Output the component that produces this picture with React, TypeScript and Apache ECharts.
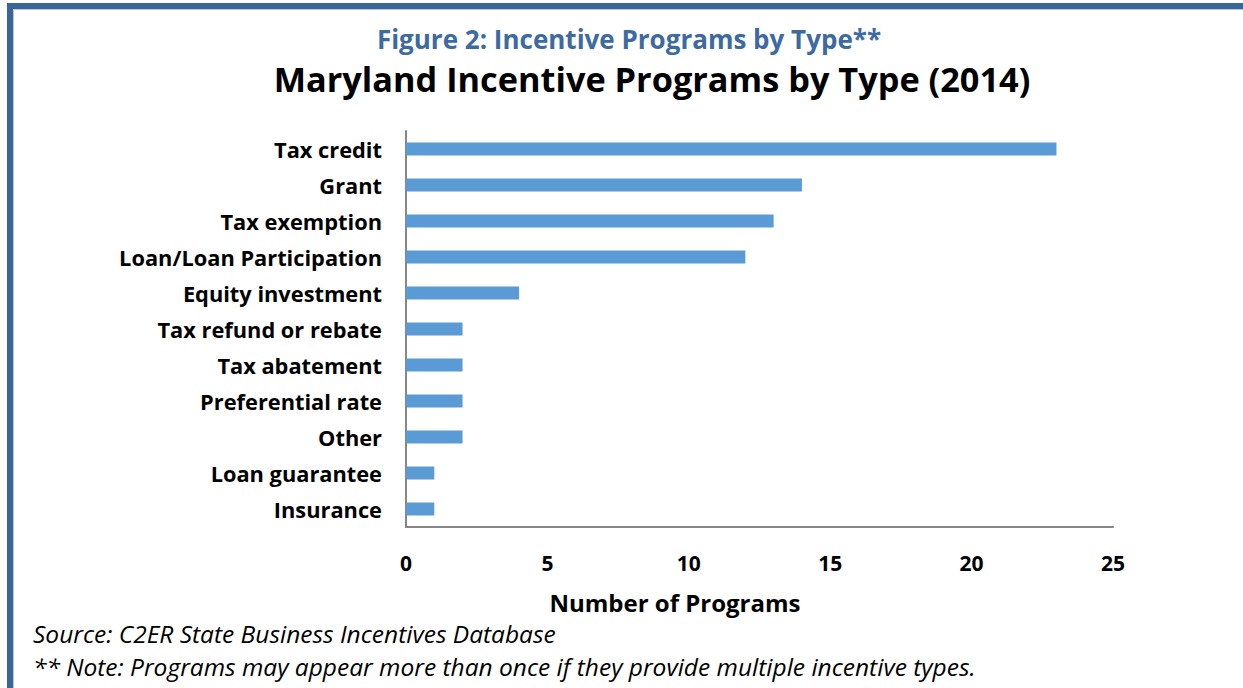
import React, { useEffect, useRef } from "react";
import * as echarts from "echarts";

const categories = [
  "Tax credit",
  "Grant",
  "Tax exemption",
  "Loan/Loan Participation",
  "Equity investment",
  "Tax refund or rebate",
  "Tax abatement",
  "Preferential rate",
  "Other",
  "Loan guarantee",
  "Insurance",
];
const programCounts = [23, 14, 13, 12, 4, 2, 2, 2, 2, 1, 1];
const xTicks = [0, 5, 10, 15, 20, 25];

const figureLabel = "Figure 2: Incentive Programs by Type**";
const chartTitle = "Maryland Incentive Programs by Type (2014)";
const xAxisName = "Number of Programs";
const sourceNote = "Source: C2ER State Business Incentives Database";
const footNote = "** Note: Programs may appear more than once if they provide multiple incentive types.";

const FONT = "'Open Sans', sans-serif";

export default function App() {
  const ref = useRef<HTMLDivElement>(null);
  useEffect(() => {
    if (!ref.current) return;
    const chart = echarts.init(ref.current, null, { renderer: "svg" });
    chart.setOption({
      animation: false,
      backgroundColor: "#ffffff",
      grid: { left: 406, right: 130, top: 131, bottom: 161, containLabel: false },
      xAxis: {
        type: "value",
        min: xTicks[0],
        max: xTicks[xTicks.length - 1],
        interval: 5,
        splitLine: { show: false },
        axisLine: { show: true, lineStyle: { color: "#868686", width: 2 } },
        axisTick: { show: false },
        axisLabel: {
          margin: 25,
          fontFamily: FONT,
          fontWeight: "bold",
          fontSize: 21,
          color: "#000",
        },
      },
      yAxis: {
        type: "category",
        data: categories,
        inverse: true,
        axisLine: { show: true, lineStyle: { color: "#868686", width: 2 } },
        axisTick: { show: false },
        axisLabel: {
          margin: 24,
          fontFamily: FONT,
          fontWeight: "bold",
          fontSize: 21.8,
          color: "#000",
          padding: [0, 0, 2, 0],
        },
      },
      series: [
        {
          type: "bar",
          data: programCounts,
          barWidth: 13,
          itemStyle: { color: "#5b9bd5" },
        },
      ],
      graphic: [
        { type: "rect", shape: { x: 7, y: 3, width: 1240, height: 6 }, style: { fill: "#3a6598" } },
        { type: "rect", shape: { x: 7, y: 3, width: 6, height: 690 }, style: { fill: "#3a6598" } },
        { type: "rect", shape: { x: 13, y: 9, width: 1235, height: 1 }, style: { fill: "#b4c8e0" } },
        { type: "rect", shape: { x: 13, y: 9, width: 1, height: 690 }, style: { fill: "#b4c8e0" } },
        {
          type: "text",
          style: {
            text: figureLabel,
            fontFamily: FONT,
            fontWeight: "bold",
            fontSize: 26,
            fill: "#3d6aa1",
            x: 629,
            y: 39,
            textAlign: "center",
            textVerticalAlign: "middle",
          },
        },
        {
          type: "text",
          style: {
            text: chartTitle,
            fontFamily: FONT,
            fontWeight: "bold",
            fontSize: 34.3,
            fill: "#000",
            x: 652,
            y: 78,
            textAlign: "center",
            textVerticalAlign: "middle",
          },
        },
        {
          type: "text",
          style: {
            text: xAxisName,
            fontFamily: FONT,
            fontWeight: "bold",
            fontSize: 24,
            fill: "#000",
            x: 675,
            y: 602,
            textAlign: "center",
            textVerticalAlign: "middle",
          },
        },
        {
          type: "text",
          style: {
            text: sourceNote,
            fontFamily: FONT,
            fontStyle: "italic",
            fontSize: 24.5,
            fill: "#000",
            x: 33,
            y: 633,
            textAlign: "left",
            textVerticalAlign: "middle",
          },
        },
        {
          type: "text",
          style: {
            text: footNote,
            fontFamily: FONT,
            fontStyle: "italic",
            fontSize: 24.5,
            fill: "#000",
            x: 33,
            y: 666,
            textAlign: "left",
            textVerticalAlign: "middle",
          },
        },
      ],
    });
    return () => chart.dispose();
  }, []);
  return (
    <div
      ref={ref}
      style={{ position: "fixed", left: 0, top: 0, width: 1243, height: 688 }}
    />
  );
}
